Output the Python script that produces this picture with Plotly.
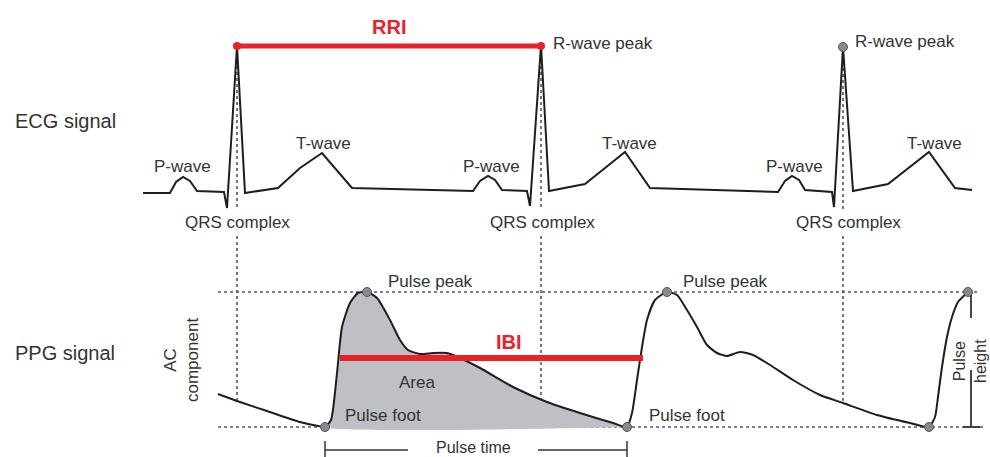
import plotly.graph_objects as go

# ---------------- data (diagram coordinates, y grows downward) ----------------
ecg_x = [143, 170, 176, 183, 190, 197, 224, 227, 237, 245, 278, 300, 322, 352,
         473, 480, 488, 495, 502, 527, 530, 541, 549, 585, 605, 625, 650,
         778, 785, 792, 799, 805, 832, 834, 843, 853, 888, 908, 929, 955, 972]
ecg_y = [193, 193, 182, 177, 181, 191, 192, 208, 46, 193, 188, 168, 153, 188,
         191, 181, 176, 180, 190, 191, 206, 45, 191, 184, 168, 152, 188,
         192, 181, 176, 180, 190, 192, 207, 47, 191, 184, 168, 152, 188, 190]

ppg_x = [218, 240, 267, 300, 318, 325,
         331, 337, 342, 350, 358, 367, 377, 390, 400, 408, 420, 433, 447, 460,
         480, 513, 547, 580, 613, 627,
         632, 637, 642, 647, 655, 667, 677, 687, 697, 707, 717, 727, 740, 753,
         770, 793, 820, 843, 877, 910, 929,
         935, 938, 942, 947, 952, 958, 968]
ppg_y = [394, 402, 411, 422, 426, 427,
         420, 373, 327, 303, 293, 292, 298, 320, 340, 350, 354, 353, 353, 358,
         368, 387, 402, 413, 423, 427,
         413, 380, 347, 320, 300, 292, 295, 310, 327, 345, 353, 356, 352, 355,
         365, 380, 395, 403, 415, 423, 427,
         417, 397, 367, 337, 317, 302, 292]

foot1_idx, foot2_idx = 5, 25          # pulse used for the shaded "Area"

r_peak_x = [237, 541, 843]
r_peak_y = [46, 45, 47]
pulse_peak_x = [367, 667, 968]
pulse_foot_x = [325, 627, 929]
peak_level, foot_level = 292, 427

rri_x, rri_y = [237, 541], 46
ibi_x, ibi_y = [340, 643], 358

FONT = "Liberation Sans, Arial, sans-serif"
TXT = "#333333"
RED = "#e8212b"
LINE = "#1e1e1e"
DOT = "#555555"

fig = go.Figure()

def seg(xs, ys, color=LINE, width=2, dash="solid"):
    fig.add_trace(go.Scatter(x=xs, y=ys, mode="lines",
                             line=dict(color=color, width=width, dash=dash),
                             hoverinfo="skip"))

# dotted guide lines
seg([218, 978], [peak_level, peak_level], DOT, 1.6, "dot")
seg([218, 985], [foot_level, foot_level], DOT, 1.6, "dot")
for xv, top, bot in zip(r_peak_x, [60, 60, 62], [400, 402, 403]):
    seg([xv, xv], [top, 210], DOT, 1.6, "dot")
    seg([xv, xv], [236, bot], DOT, 1.6, "dot")

# shaded area under first pulse
ax_ = ppg_x[foot1_idx:foot2_idx + 1]
ay_ = ppg_y[foot1_idx:foot2_idx + 1]
fig.add_trace(go.Scatter(x=ax_ + [ax_[-1], ax_[0]], y=ay_ + [foot_level, foot_level],
                         mode="lines", fill="toself", fillcolor="#bec0c6",
                         line=dict(width=0, color="#bec0c6", shape="spline", smoothing=0.6),
                         hoverinfo="skip"))

# signals
fig.add_trace(go.Scatter(x=ecg_x, y=ecg_y, mode="lines",
                         line=dict(color=LINE, width=2), hoverinfo="skip"))
fig.add_trace(go.Scatter(x=ppg_x, y=ppg_y, mode="lines",
                         line=dict(color=LINE, width=2, shape="spline", smoothing=0.6),
                         hoverinfo="skip"))

# RRI / IBI bars
seg(rri_x, [rri_y, rri_y], RED, 5)
seg(ibi_x, [ibi_y, ibi_y], RED, 6)

# pulse time brackets
seg([325, 408], [450, 450], "#333", 1.5)
seg([538, 627], [450, 450], "#333", 1.5)
seg([325, 325], [441, 460], "#333", 1.5)
seg([627, 627], [441, 460], "#333", 1.5)

# pulse height bracket
seg([971, 971], [295, 318], "#444", 2)
seg([971, 971], [370, 427], "#444", 2)
seg([963, 980], [427, 427], "#444", 2)

# markers
fig.add_trace(go.Scatter(x=rri_x, y=[rri_y, rri_y], mode="markers",
                         marker=dict(color=RED, size=8), hoverinfo="skip"))
fig.add_trace(go.Scatter(x=[r_peak_x[2]], y=[r_peak_y[2]], mode="markers",
                         marker=dict(color="#8a8a8a", size=9, line=dict(color="#555", width=1)),
                         hoverinfo="skip"))
fig.add_trace(go.Scatter(x=pulse_peak_x + pulse_foot_x,
                         y=[peak_level] * 3 + [foot_level] * 3, mode="markers",
                         marker=dict(color="#8a8a8a", size=9, line=dict(color="#555", width=1)),
                         hoverinfo="skip"))

# text
def txt(x, y, s, size=17, color=TXT, bold=False, xanchor="center", angle=0):
    fig.add_annotation(x=x, y=y, text=f"<b>{s}</b>" if bold else s, showarrow=False,
                       xanchor=xanchor, yanchor="middle", textangle=angle,
                       font=dict(family=FONT, size=size, color=color))

txt(13, 121, "ECG signal", 20, xanchor="left")
txt(13, 353, "PPG signal", 20, xanchor="left")
txt(389, 27, "RRI", 20, RED, True)
txt(509, 342, "IBI", 20, RED, True)
txt(551, 43, "R-wave peak", xanchor="left")
txt(853, 41, "R-wave peak", xanchor="left")
for px, tx, qx in [(182, 323, 237), (491, 629, 542), (794, 934, 848)]:
    txt(px, 166, "P-wave")
    txt(tx, 143, "T-wave")
    txt(qx, 222, "QRS complex")
txt(430, 281, "Pulse peak", xanchor="center")
txt(725, 281, "Pulse peak", xanchor="center")
txt(417, 382, "Area")
txt(343, 415, "Pulse foot", xanchor="left")
txt(647, 415, "Pulse foot", xanchor="left")
txt(473, 447, "Pulse time", 16)
txt(181, 360, "AC<br>component", angle=-90)
txt(970, 361, "Pulse<br>height", 16, angle=-90)

fig.update_layout(width=990, height=457, margin=dict(l=0, r=0, t=0, b=0),
                  paper_bgcolor="white", plot_bgcolor="white", showlegend=False,
                  xaxis=dict(range=[0, 990], visible=False, fixedrange=True),
                  yaxis=dict(range=[457, 0], visible=False, fixedrange=True))

fig.write_html("out.html", config={"displayModeBar": False},
               post_script="document.body.style.margin='0';document.body.style.overflow='hidden';")
